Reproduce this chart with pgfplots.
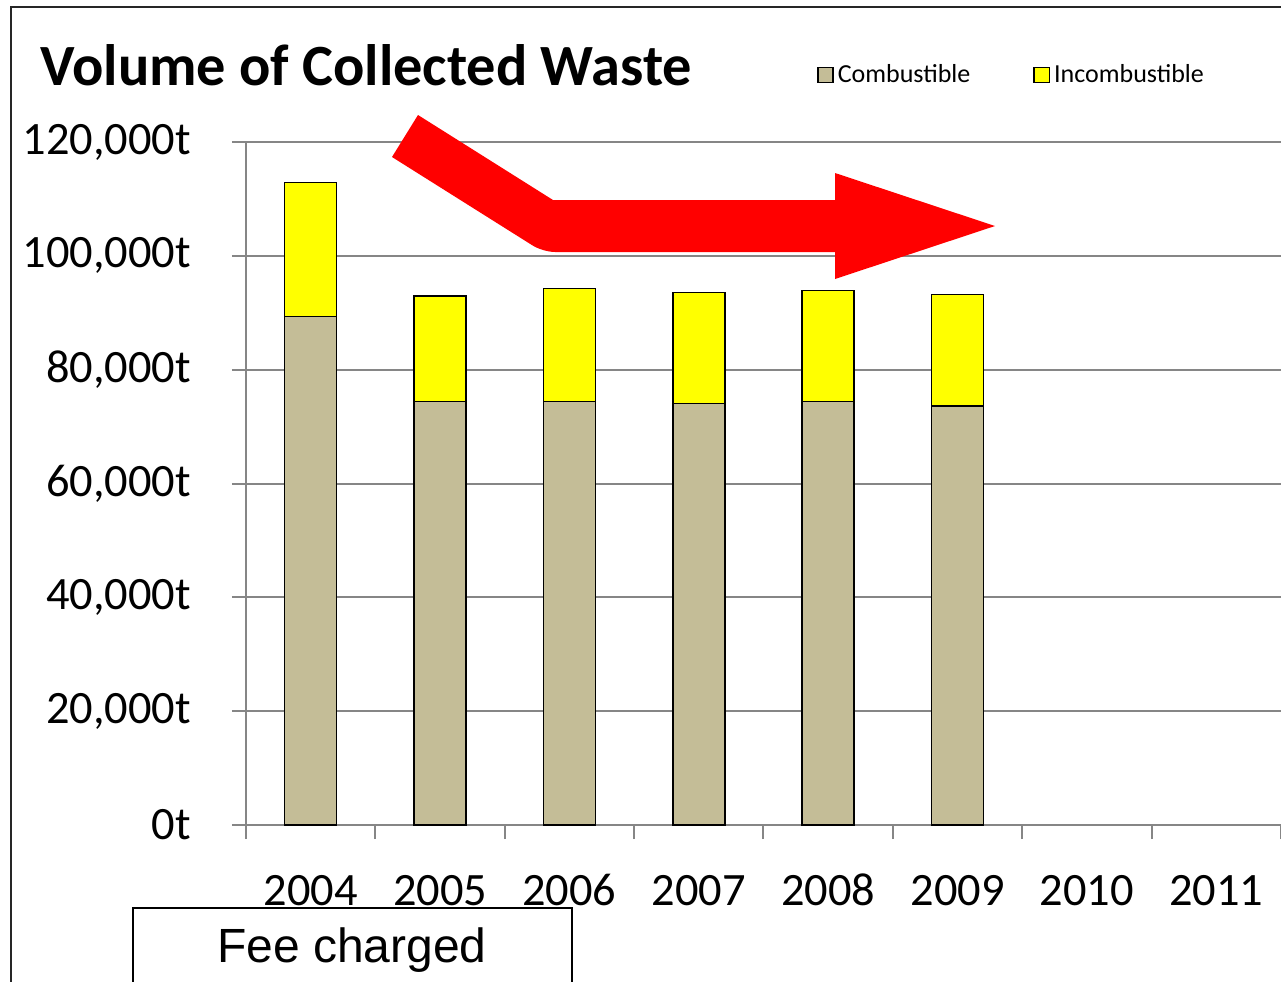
\documentclass[border=0pt]{standalone}
\usepackage{pgfplots}
\pgfplotsset{compat=1.18}
\usepackage{fontspec}
\setmainfont{Carlito}
\newfontfamily\arialfont{Liberation Sans}
\definecolor{comb}{RGB}{196,189,151}
\definecolor{incomb}{RGB}{255,255,0}
\definecolor{axgray}{RGB}{134,134,134}
\begin{document}
\begin{tikzpicture}
\useasboundingbox (0,0) rectangle (640.5pt,-490.5pt);
\begin{axis}[
  scale only axis,
  width=517.5pt, height=341.5pt,
  anchor=south west, at={(123pt,-412.5pt)},
  ybar stacked, bar width=26pt,
  xmin=-0.5, xmax=7.5, ymin=0, ymax=120000,
  scaled y ticks=false,
  axis x line*=bottom, axis y line*=left,
  axis line style={draw=axgray, line width=1pt},
  xtick={0,...,7},
  xticklabels={2004,2005,2006,2007,2008,2009,2010,2011},
  minor xtick={-0.5,0.5,...,7.5},
  x tick style={draw=none},
  minor x tick style={draw=axgray, line width=1pt},
  minor tick length=7pt,
  tick align=outside,
  ytick={0,20000,...,120000},
  yticklabels={0t,{20,000t},{40,000t},{60,000t},{80,000t},{100,000t},{120,000t}},
  y tick style={draw=axgray, line width=1pt},
  major tick length=7pt,
  ymajorgrids, grid style={draw=axgray, line width=1pt},
  xticklabel style={font=\fontsize{23.2pt}{26pt}\selectfont, anchor=base, yshift=-33pt},
  yticklabel style={font=\fontsize{23.2pt}{26pt}\selectfont, anchor=east, xshift=-17pt},
  every axis plot/.append style={draw=black, line width=0.75pt},
  legend style={draw=none, fill=none, at={(0.5455,1.098)}, anchor=west,
    font=\fontsize{13pt}{15pt}\selectfont, legend columns=2,
    /tikz/every even column/.append style={column sep=29.5pt}},
  legend image code/.code={\draw[#1, line width=0.8pt] (-1.5pt,-3.8pt) rectangle (6.1pt,3.8pt);},
]
\addplot[fill=comb] coordinates {(0,89310) (1,74370) (2,74370) (3,74020) (4,74370) (5,73620)};
\addplot[fill=incomb] coordinates {(0,23540) (1,18575) (2,19930) (3,19570) (4,19580) (5,19620)};
\legend{Combustible, Incombustible}
\end{axis}
\begin{scope}[x=0.5pt,y=-0.5pt]
\draw[black!85, line width=0.8pt] (11,990) -- (11,7) -- (1290,7);
\node[anchor=west, inner sep=0pt, font=\fontsize{29.2pt}{32pt}\selectfont\bfseries] at (40,65) {Volume of Collected Waste};
\fill[red] (418,115) -- (553,200) -- (835,200) -- (835,173) -- (995,226) -- (835,279) -- (835,252) [rounded corners=6pt] -- (543,252) [sharp corners] -- (392,157) -- cycle;
\filldraw[fill=white, draw=black, line width=0.8pt] (133,995) -- (133,908) -- (572,908) -- (572,995);
\node[font=\arialfont\fontsize{24pt}{26pt}\selectfont, inner sep=0pt] at (352,950) {Fee charged};
\end{scope}
\end{tikzpicture}
\end{document}
